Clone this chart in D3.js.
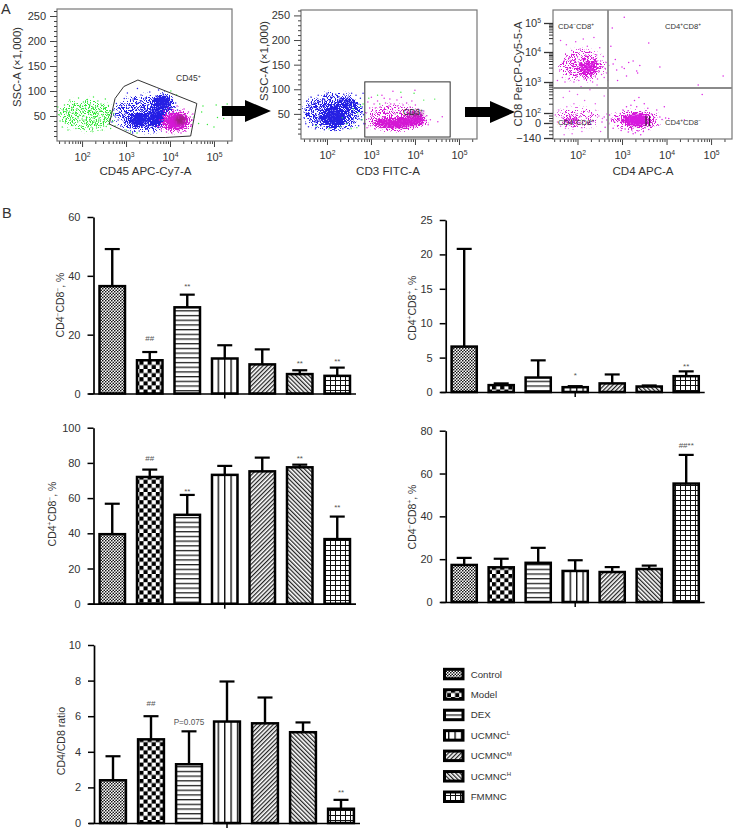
<!DOCTYPE html>
<html>
<head>
<meta charset="utf-8">
<script src="https://cdnjs.cloudflare.com/ajax/libs/d3/7.8.5/d3.min.js"></script>
<style>
html, body { margin: 0; padding: 0; background: #fff; }
svg { display: block; }
text { font-family: "Liberation Sans", Arial, sans-serif; fill: #333; }
</style>
</head>
<body>
<svg id="fig" width="735" height="831"></svg>
<script>
// ---- bar chart data
var categories = ["Control", "Model", "DEX", "UCMNCL", "UCMNCM", "UCMNCH", "FMMNC"];
var legendNames = ["Control", "Model", "DEX", "UCMNC", "UCMNC", "UCMNC", "FMMNC"];
var legendSups = ["", "", "", "L", "M", "H", ""];

var nnValues = [36.5, 11.3, 29.3, 11.9, 9.9, 6.6, 6.0];
var nnErrors = [49.1, 14.1, 33.6, 16.4, 15.0, 7.9, 8.8];
var nnMarks = [["Model", "##", 17.7], ["DEX", "**", 35.5], ["UCMNCH", "**", 9.4], ["FMMNC", "**", 10]];

var ppValues = [6.6, 1.0, 2.1, 0.7, 1.25, 0.8, 2.3];
var ppErrors = [20.8, 1.25, 4.6, 0.85, 2.55, 0.95, 3.0];
var ppMarks = [["UCMNCL", "*", 2.0], ["FMMNC", "**", 3.4]];

var pnValues = [39.5, 72, 50.5, 73.2, 75.2, 77.5, 36.7];
var pnErrors = [56.8, 76.2, 61.8, 78.3, 83, 79, 49.5];
var pnMarks = [["Model", "##", 81.3], ["DEX", "**", 62.3], ["UCMNCH", "**", 81], ["FMMNC", "**", 53]];

var npValues = [17.3, 16.2, 18.3, 14.5, 14, 15.4, 55.3];
var npErrors = [20.6, 20.2, 25.3, 19.5, 16.3, 17, 68.7];
var npMarks = [["FMMNC", "##**", 71.7]];

var ratioValues = [2.4, 4.7, 3.3, 5.7, 5.6, 5.1, 0.8];
var ratioErrors = [3.75, 6.0, 5.15, 7.95, 7.05, 5.65, 1.3];
var ratioMarks = [["Model", "##", 6.6], ["DEX", "P=0.075", 5.5], ["FMMNC", "**", 1.55]];

// ---- flow panel A: [log10 CD45, SSC]
var gateA = [[2.62,34],[2.75,85],[2.95,109],[3.27,122],[3.70,107],[4.61,75],[4.47,10],[3.89,7],[3.27,7]];
var greenA = [[1.45,68],[1.5,40],[1.52,55],[1.55,28],[1.58,47],[1.6,72],[1.62,36],[1.65,60],[1.68,22],[1.7,50],
[1.72,82],[1.74,42],[1.77,66],[1.79,31],[1.8,56],[1.83,75],[1.85,45],[1.86,25],[1.88,62],[1.9,38],
[1.92,86],[1.94,52],[1.96,70],[1.98,30],[2.0,44],[2.02,58],[2.03,78],[2.05,23],[2.06,35],[2.08,65],
[2.1,48],[2.12,83],[2.13,28],[2.15,54],[2.17,40],[2.18,72],[2.2,61],[2.22,33],[2.23,20],[2.25,46],
[2.26,88],[2.28,57],[2.3,37],[2.31,68],[2.33,26],[2.35,50],[2.36,80],[2.38,42],[2.4,63],[2.41,31],
[2.43,74],[2.45,53],[2.46,22],[2.48,38],[2.5,66],[2.52,47],[2.53,84],[2.55,29],[2.57,56],[2.58,41],
[2.6,71],[2.61,34],[2.63,60],[2.65,25],[2.67,49],[2.7,39],[2.72,55],[2.75,30],[1.48,52],[1.57,62],
[1.64,44],[1.71,58],[1.76,50],[1.82,35],[1.87,54],[1.91,46],[1.95,41],[1.99,64],[2.04,50],[2.07,42],
[2.11,37],[2.14,60],[2.19,44],[2.21,52],[2.24,68],[2.27,40],[2.29,48],[2.32,58],[2.34,34],[2.37,54],
[2.39,46],[2.42,42],[2.44,60],[2.47,50],[2.49,30],[2.51,40],[2.54,46],[2.59,52],[2.62,44],[2.66,58],
[3.0,22],[3.1,18],[3.25,16],[4.55,48],[4.65,35],[4.72,58],[4.85,33],[5.0,28],[5.08,47],[5.05,72],
[5.18,68],[5.22,45],[5.3,74],[4.75,70],[4.02,100],[4.15,92]];
var blueA = [[2.68,38],[2.72,62],[2.75,50],[2.78,75],[2.82,42],[2.85,58],[2.88,30],[2.9,68],[2.93,48],[2.96,85],
[2.98,36],[3.0,55],[3.03,96],[3.05,44],[3.07,72],[3.09,26],[3.12,60],[3.14,48],[3.16,84],[3.18,38],
[3.2,66],[3.22,28],[3.24,52],[3.26,105],[3.28,76],[3.3,20],[3.32,44],[3.34,92],[3.36,60],[3.38,30],
[3.4,68],[3.42,50],[3.44,86],[3.46,24],[3.48,40],[3.5,72],[3.52,56],[3.54,98],[3.56,32],[3.58,62],
[3.6,46],[3.62,80],[3.64,18],[3.66,54],[3.68,90],[3.7,36],[3.72,66],[3.74,102],[3.76,48],[3.78,28],
[3.8,84],[3.82,58],[3.84,94],[3.86,70],[3.88,40],[3.9,78],[3.92,90],[3.94,62],[3.96,86],[3.98,52],
[4.0,74],[4.02,66],[4.05,82],[4.08,58],[4.1,68],[4.13,76],[4.17,62],[3.15,16],[3.25,34],[3.35,38],
[3.45,62],[3.55,42],[3.65,38],[3.75,58],[3.85,50],[3.95,44]];
var magentaA = [[3.72,30],[3.76,42],[3.8,22],[3.84,36],[3.86,60],[3.88,28],[3.9,48],[3.92,18],[3.94,38],[3.96,66],
[3.98,24],[4.0,52],[4.02,34],[4.04,16],[4.06,44],[4.08,62],[4.1,26],[4.12,54],[4.14,38],[4.16,70],
[4.18,20],[4.2,46],[4.22,30],[4.24,60],[4.26,52],[4.28,24],[4.3,40],[4.32,64],[4.34,34],[4.36,50],
[4.38,26],[4.4,44],[4.42,58],[4.44,36],[4.46,48],[4.48,30],[4.5,42],[4.52,54],[4.35,20],[4.25,16]];
// clouds: [centre x, centre y, half width, half height, density]
var greenCloudsA = [[2.1,52,0.62,30,0.4]];
var blueCloudsA = [[3.45,55,0.72,36,0.48],[3.32,42,0.3,14,0.95],[3.84,76,0.22,18,0.95],[3.7,48,0.25,22,0.9]];
var blueCoreA = [[3.32,42,0.2,9,0.75],[3.84,76,0.15,12,0.8],[3.7,50,0.15,14,0.7]];
var magentaCloudsA = [[4.14,40,0.32,20,0.92],[3.95,35,0.2,12,0.7]];
var magentaCoreA = [[4.14,40,0.22,14,0.9]];
var darkCloudsA = [[4.24,42,0.12,9,0.6]];

// ---- flow panel B: [log10 CD3, SSC]
var gateB = [[2.86,115],[4.8,3]];
var blueB = [[1.48,42],[1.5,60],[1.52,30],[1.54,76],[1.56,50],[1.58,24],[1.6,66],[1.62,38],[1.64,84],[1.66,54],
[1.68,28],[1.7,72],[1.72,44],[1.74,20],[1.76,62],[1.78,34],[1.8,88],[1.82,48],[1.84,74],[1.86,26],
[1.88,58],[1.9,36],[1.92,80],[1.94,18],[1.96,68],[1.98,44],[2.0,92],[2.02,30],[2.04,60],[2.06,76],
[2.08,22],[2.1,52],[2.12,84],[2.14,38],[2.16,66],[2.18,16],[2.2,90],[2.22,46],[2.24,72],[2.26,28],
[2.28,56],[2.3,82],[2.32,34],[2.34,64],[2.36,20],[2.38,90],[2.4,48],[2.42,74],[2.44,30],[2.46,58],
[2.48,84],[2.5,40],[2.52,66],[2.54,24],[2.56,92],[2.58,52],[2.6,78],[2.62,34],[2.64,62],[2.66,88],
[2.68,44],[2.7,70],[2.72,26],[2.74,56],[2.76,82],[2.78,38],[2.8,64],[2.82,92],[2.83,48],[2.84,30],
[1.53,52],[1.67,62],[1.73,34],[1.83,60],[1.93,54],[2.03,46],[2.13,62],[2.23,56],[2.33,44],[2.43,62],
[2.53,50],[2.63,46],[2.73,40],[2.79,52],[2.55,74],[2.65,72],[2.45,78],[2.35,76],[2.25,84],[1.75,50]];
var greenB = [[1.75,26],[2.05,20],[2.3,24],[2.45,30],[2.55,20],[2.68,22],[2.7,52],[2.76,66],[2.82,70],[2.8,38],
[2.95,82],[3.15,88],[3.2,70],[3.68,94],[3.98,92],[4.2,78],[4.45,80],[3.6,52],[2.6,60],[2.35,42]];
var magentaB = [[2.87,30],[2.89,52],[2.91,22],[2.93,74],[2.95,40],[2.97,62],[2.99,26],[3.01,84],[3.03,46],[3.05,32],
[3.07,70],[3.09,20],[3.11,56],[3.13,38],[3.15,76],[3.17,28],[3.19,48],[3.21,64],[3.23,22],[3.25,88],
[3.27,36],[3.29,58],[3.31,44],[3.33,72],[3.35,24],[3.37,52],[3.39,34],[3.41,66],[3.43,80],[3.45,42],
[3.47,26],[3.49,60],[3.51,38],[3.53,70],[3.55,50],[3.57,22],[3.59,78],[3.61,44],[3.63,62],[3.65,30],
[3.67,54],[3.69,84],[3.71,36],[3.73,68],[3.75,46],[3.77,24],[3.79,58],[3.81,72],[3.83,40],[3.85,52],
[3.87,30],[3.89,64],[3.91,44],[3.93,76],[3.95,34],[3.97,56],[3.99,42],[4.01,68],[4.03,26],[4.05,48],
[4.07,60],[4.09,36],[4.12,52],[4.15,42],[4.18,30],[4.2,56],[4.23,36],[4.27,46],[4.3,28],[4.35,38],
[4.52,34],[4.62,44],[3.5,96],[4.0,98],[3.1,62],[3.3,82],[3.45,70],[3.6,66]];
var blueCloudsB = [[2.15,55,0.68,36,0.55],[2.15,45,0.28,22,0.98],[2.5,70,0.2,14,0.72]];
var blueCoreB = [[2.15,45,0.18,14,0.8],[2.48,72,0.08,7,0.5]];
var magentaCloudsB = [[3.5,42,0.62,26,0.38],[3.6,31,0.55,11,0.95],[3.95,38,0.3,13,0.9]];
var magentaCoreB = [[3.6,30,0.42,7,0.9],[3.95,36,0.22,8,0.9]];
var darkCloudsB = [[4.0,50,0.2,6,0.75]];

// ---- flow panel C: [log10 CD4, axis position of CD8]. CD8 position runs through the
// tick positions in cd8Positions below, so 3 means 10^3 and 0 means 0
var cd8Positions = [-2.8, 0, 2, 3, 4, 5];
var cd8TickLabels = ["\u2212140", "0", "102", "103", "104", "105"];
var upperLeftC = [[1.55,3.05],[1.6,3.4],[1.62,4.4],[1.66,3.15],[1.7,3.7],[1.72,3.0],[1.75,4.25],[1.78,3.45],[1.8,3.1],[1.82,3.8],
[1.85,3.3],[1.87,4.05],[1.9,3.55],[1.92,3.0],[1.94,3.7],[1.96,4.35],[1.98,3.2],[2.0,3.85],[2.01,3.4],[2.03,3.05],
[2.05,3.6],[2.06,4.1],[2.08,3.25],[2.1,3.75],[2.11,3.45],[2.13,4.45],[2.15,3.1],[2.16,3.6],[2.18,3.9],[2.19,3.35],
[2.21,3.55],[2.22,4.2],[2.24,3.15],[2.25,3.7],[2.27,3.45],[2.28,4.0],[2.3,3.25],[2.31,3.6],[2.33,3.8],[2.34,3.0],
[2.36,3.4],[2.37,4.5],[2.39,3.65],[2.4,3.2],[2.42,3.5],[2.43,3.9],[2.45,3.1],[2.47,3.6],[2.49,3.35],[2.5,4.15],
[2.52,3.7],[2.54,3.25],[2.56,3.5],[2.58,3.85],[2.6,3.15],[2.62,3.45],[2.64,3.65],[2.66,3.3],[2.68,3.05],[2.7,3.55],
[2.1,3.5],[2.14,3.4],[2.17,3.3],[2.2,3.65],[2.23,3.5],[2.26,3.35],[2.29,3.55],[2.32,3.45],[2.35,3.6],[2.38,3.3],
[2.41,3.4],[2.44,3.7],[2.12,3.2],[2.18,3.75],[2.24,3.8],[2.3,3.4],[2.36,3.75],[2.0,3.5],[2.04,3.75],[2.07,3.5]];
var lowerLeftC = [[1.5,1.6],[1.55,0.2],[1.58,2.1],[1.62,-0.6],[1.65,1.1],[1.68,2.5],[1.7,0.4],[1.73,-1.0],[1.76,2.2],[1.78,0.8],
[1.8,-0.2],[1.82,2.7],[1.85,1.4],[1.87,0.2],[1.9,-0.8],[1.92,2.3],[1.94,0.6],[1.96,1.7],[1.98,-0.4],[2.0,2.6],
[2.03,0.1],[2.05,1.2],[2.08,2.85],[2.1,-0.9],[2.13,0.5],[2.16,2.4],[2.2,1.0],[2.24,-0.3],[2.28,2.75],[2.32,1.8],
[2.36,0.3],[2.4,2.3],[2.44,2.9],[2.48,1.4],[2.52,-1.6],[2.56,0.9],[2.6,2.55],[2.66,1.8],[1.75,0.2],[1.8,0.6],
[1.85,-0.3],[1.9,0.3],[1.95,0.9],[2.0,0.5],[2.05,-0.2],[1.7,-2.2],[1.88,-2.0],[2.1,-1.6]];
var lowerRightC = [[2.55,0.2],[2.6,1.2],[2.62,-0.8],[2.66,0.6],[2.7,-0.2],[2.72,1.6],[2.76,0.8],[2.8,-1.0],[2.82,0.3],[2.86,1.3],
[2.9,-0.5],[2.93,0.9],[2.96,1.9],[2.98,-1.4],[3.0,0.2],[3.02,2.1],[3.05,1.0],[3.07,-1.1],[3.1,2.2],[3.12,-0.3],
[3.14,-1.7],[3.17,1.4],[3.2,2.25],[3.22,-1.3],[3.25,-2.0],[3.28,2.4],[3.3,-1.8],[3.33,2.2],[3.36,-1.5],[3.38,2.5],
[3.42,-2.2],[3.44,1.9],[3.48,-1.6],[3.5,2.3],[3.52,-0.9],[3.55,1.5],[3.58,2.15],[3.6,-1.2],[3.63,0.5],[3.66,1.8],
[3.68,-0.6],[3.72,1.1],[3.75,0.2],[3.78,2.1],[3.82,-0.4],[3.85,1.2],[3.9,0.7],[3.95,2.2],[3.98,1.0],[4.05,0.9],
[4.4,0.6]];
var upperRightC = [[3.05,5.2],[2.78,4.83],[3.6,4.31],[3.85,3.5],[3.33,3.37],[5.27,3.2],[4.71,2.9],[4.8,2.6],[2.75,4.2],
[2.85,3.75],[2.8,3.6],[3.0,3.5],[3.25,3.7],[2.88,3.4],[3.05,3.45],[3.15,3.65],[3.4,3.55],[2.9,3.05],[3.1,3.2],[3.35,3.3]];
var cloudsC = [[2.1,3.55,0.5,0.5,0.46],[2.24,3.47,0.2,0.22,0.95],[2.0,1.0,0.5,1.8,0.34],[1.87,0.5,0.2,0.7,0.6],[3.3,0.6,0.55,1.6,0.55],[3.33,0.6,0.3,1.3,0.98]];
var coreC = [[3.33,0.6,0.24,1.15,0.95],[2.24,3.47,0.12,0.13,0.7],[1.87,0.3,0.12,0.5,0.3]];
var gateBarsC = [[3.54,1.4,-0.6],[3.62,1.4,-0.6]];

// ---- tick values and minor ticks
var decades = [100, 1000, 10000, 100000];
var sscTicks = [50, 100, 150, 200, 250];
var sscMinor = [10, 20, 30, 40, 60, 70, 80, 90, 110, 120, 130, 140, 160, 170, 180, 190, 210, 220, 230, 240, 260];
var logMinor = [30, 40, 50, 60, 70, 80, 90, 200, 300, 400, 500, 600, 700, 800, 900, 2000, 3000, 4000, 5000, 6000, 7000, 8000, 9000,
  20000, 30000, 40000, 50000, 60000, 70000, 80000, 90000, 200000];
var cd8Minor = [-2.1, -1.4, -0.7, 0.5, 1, 1.5, 2.3, 2.48, 2.6, 2.7, 2.78, 2.85, 2.9, 2.95, 3.3, 3.48, 3.6, 3.7, 3.78, 3.85, 3.9, 3.95, 4.3, 4.48, 4.6, 4.7, 4.78, 4.85, 4.9, 4.95];

var svg = d3.select("#fig");
var defs = svg.append("defs");

// ---- fill patterns, one per group
function makePattern(id, w, h, rot) {
  var p = defs.append("pattern").attr("id", id).attr("patternUnits", "userSpaceOnUse")
    .attr("width", w).attr("height", h);
  if (rot) p.attr("patternTransform", "rotate(" + rot + ")");
  p.append("rect").attr("width", w).attr("height", h).attr("fill", "#fff");
  return p;
}
var pc = makePattern("p0", 3, 3, 0);
pc.append("circle").attr("cx", 0.75).attr("cy", 0.75).attr("r", 0.85).attr("fill", "#111");
pc.append("circle").attr("cx", 2.25).attr("cy", 2.25).attr("r", 0.85).attr("fill", "#111");
var pm = makePattern("p1", 8.2, 8.2, 0);
pm.append("rect").attr("width", 4.1).attr("height", 4.1).attr("fill", "#000");
pm.append("rect").attr("x", 4.1).attr("y", 4.1).attr("width", 4.1).attr("height", 4.1).attr("fill", "#000");
makePattern("p2", 4.7, 4.7, 0).append("rect").attr("width", 4.7).attr("height", 1.3).attr("fill", "#222");
makePattern("p3", 6.4, 6.4, 0).append("rect").attr("width", 1.4).attr("height", 6.4).attr("fill", "#111");
makePattern("p4", 3, 3, 45).append("rect").attr("width", 1.25).attr("height", 3).attr("fill", "#222");
makePattern("p5", 3, 3, -45).append("rect").attr("width", 1.25).attr("height", 3).attr("fill", "#222");
var pf = makePattern("p6", 5, 5, 0);
pf.append("rect").attr("width", 5).attr("height", 1).attr("fill", "#111");
pf.append("rect").attr("width", 1).attr("height", 5).attr("fill", "#111");

defs.append("filter").attr("id", "blur").attr("x", "-50%").attr("y", "-50%").attr("width", "200%").attr("height", "200%")
  .append("feGaussianBlur").attr("stdDeviation", 1.8);

// grain filter: turns a cloud into speckle, denser where the cloud is denser
function grainFilter(id, color) {
  var f = defs.append("filter").attr("id", id).attr("x", "-30%").attr("y", "-30%").attr("width", "160%").attr("height", "160%")
    .attr("color-interpolation-filters", "sRGB");
  f.append("feGaussianBlur").attr("in", "SourceAlpha").attr("stdDeviation", 2.2).attr("result", "soft");
  f.append("feTurbulence").attr("type", "fractalNoise").attr("baseFrequency", 0.95).attr("numOctaves", 2).attr("seed", 4).attr("result", "noise");
  f.append("feColorMatrix").attr("in", "noise").attr("type", "matrix")
    .attr("values", "0 0 0 0 0  0 0 0 0 0  0 0 0 0 0  2.6 0 0 0 -0.8").attr("result", "speck");
  f.append("feComposite").attr("in", "soft").attr("in2", "speck").attr("operator", "arithmetic")
    .attr("k1", 0).attr("k2", 1).attr("k3", 1).attr("k4", -1).attr("result", "sum");
  f.append("feComponentTransfer").attr("in", "sum").attr("result", "sharp")
    .append("feFuncA").attr("type", "linear").attr("slope", 7);
  f.append("feFlood").attr("flood-color", color).attr("result", "tint");
  f.append("feComposite").attr("in", "tint").attr("in2", "sharp").attr("operator", "in");
}
grainFilter("grainGreen", "#35e83a");
grainFilter("grainBlue", "#2420e4");
grainFilter("grainMagenta", "#d414d4");

// text with a raised part, parts are [text, raised]
function richText(sel, parts, size) {
  sel.text(null);
  parts.forEach(function (part, i) {
    var ts = sel.append("tspan").text(part[0]);
    if (part[1]) ts.attr("dy", -size * 0.38).attr("font-size", size * 0.62);
    else if (i > 0 && parts[i - 1][1]) ts.attr("dy", size * 0.38);
  });
}
function power(label) { return [[label.slice(0, 2), false], [label.slice(2), true]]; }

// ---- flow cytometry panels
function flowFrame(box, x, y) {
  var g = svg.append("g");
  g.append("g").attr("transform", "translate(0," + box.bottom + ")")
    .call(d3.axisBottom(x).tickValues(logMinor).tickSize(3).tickFormat(""))
    .call(function (a) { a.select(".domain").remove(); a.selectAll("line").attr("stroke", "#444"); });
  g.append("g").attr("transform", "translate(0," + box.bottom + ")")
    .call(d3.axisBottom(x).tickValues(decades).tickSize(6).tickPadding(6))
    .call(function (a) {
      a.select(".domain").remove();
      a.selectAll("line").attr("stroke", "#444");
      a.selectAll("text").attr("font-size", 11).attr("font-family", "Liberation Sans").attr("fill", "#333")
        .each(function (d) { richText(d3.select(this), power("10" + Math.round(Math.log10(d))), 11); });
    });
  g.append("rect").attr("x", box.left).attr("y", box.top).attr("width", box.right - box.left)
    .attr("height", box.bottom - box.top).attr("fill", "none").attr("stroke", "#777").attr("stroke-width", 1.2);
  return g;
}
function sscAxis(g, box, y) {
  g.append("g").attr("transform", "translate(" + box.left + ",0)")
    .call(d3.axisLeft(y).tickValues(sscMinor).tickSize(3).tickFormat(""))
    .call(function (a) { a.select(".domain").remove(); a.selectAll("line").attr("stroke", "#444"); });
  g.append("g").attr("transform", "translate(" + box.left + ",0)")
    .call(d3.axisLeft(y).tickValues(sscTicks).tickSize(7).tickPadding(4))
    .call(function (a) {
      a.select(".domain").remove();
      a.selectAll("line").attr("stroke", "#444");
      a.selectAll("text").attr("font-size", 11).attr("font-family", "Liberation Sans").attr("fill", "#333");
    });
}
function dots(g, pts, color, x, y, r) {
  g.append("g").selectAll("circle").data(pts).enter().append("circle")
    .attr("cx", function (d) { return x(Math.pow(10, d[0])); })
    .attr("cy", function (d) { return y(d[1]); })
    .attr("r", r || 0.75)
    .attr("fill", color);
}
function clouds(g, list, filterId, x, y, color) {
  g.append("g").attr("filter", "url(#" + filterId + ")").selectAll("ellipse").data(list).enter().append("ellipse")
    .attr("cx", function (d) { return x(Math.pow(10, d[0])); })
    .attr("cy", function (d) { return y(d[1]); })
    .attr("rx", function (d) { return x(Math.pow(10, d[0] + d[2])) - x(Math.pow(10, d[0])); })
    .attr("ry", function (d) { return y(d[1] - d[3]) - y(d[1]); })
    .attr("fill", color || "#000").attr("fill-opacity", function (d) { return d[4]; });
}
function label(x, y, parts, size, anchor, rotate, color) {
  var t = svg.append("text").attr("font-size", size).attr("text-anchor", anchor || "middle");
  if (color) t.style("fill", color);
  if (rotate) t.attr("transform", "translate(" + x + "," + y + ") rotate(" + rotate + ")");
  else t.attr("x", x).attr("y", y);
  richText(t, parts, size);
  return t;
}

// panel one
var boxA = { left: 57, right: 232, top: 9, bottom: 141 };
var xA = d3.scaleLog().domain([Math.pow(10, 1.43), Math.pow(10, 5.41)]).range([boxA.left, boxA.right]);
var yA = d3.scaleLinear().domain([0, 264]).range([boxA.bottom, boxA.top]);
var frameA = flowFrame(boxA, xA, yA);
sscAxis(frameA, boxA, yA);
clouds(frameA, greenCloudsA, "grainGreen", xA, yA);
dots(frameA, greenA, "#35e83a", xA, yA, 0.7);
clouds(frameA, blueCloudsA, "grainBlue", xA, yA);
clouds(frameA, blueCoreA, "blur", xA, yA, "#2420e4");
dots(frameA, blueA, "#2b22e6", xA, yA);
clouds(frameA, magentaCloudsA, "grainMagenta", xA, yA);
clouds(frameA, magentaCoreA, "blur", xA, yA, "#d414d4");
clouds(frameA, darkCloudsA, "blur", xA, yA, "#7a2a50");
dots(frameA, magentaA, "#d61ad6", xA, yA);
frameA.append("path")
  .attr("d", d3.line().x(function (d) { return xA(Math.pow(10, d[0])); }).y(function (d) { return yA(d[1]); }).curve(d3.curveLinearClosed)(gateA))
  .attr("fill", "none").attr("stroke", "#333").attr("stroke-width", 1);
label(176, 81, [["CD45", false], ["+", true]], 8.5, "start");
label(145.5, 175, [["CD45 APC-Cy7-A", false]], 11.6);
label(21, 67, [["SSC-A (\u00d71,000)", false]], 11.4, "middle", -90);

// panel two
var boxB = { left: 301, right: 477, top: 10, bottom: 139 };
var xB = d3.scaleLog().domain([Math.pow(10, 1.41), Math.pow(10, 5.41)]).range([boxB.left, boxB.right]);
var yB = d3.scaleLinear().domain([0, 261]).range([boxB.bottom - 0.5, boxB.top]);
var frameB = flowFrame(boxB, xB, yB);
sscAxis(frameB, boxB, yB);
clouds(frameB, blueCloudsB, "grainBlue", xB, yB);
clouds(frameB, blueCoreB, "blur", xB, yB, "#2420e4");
dots(frameB, blueB, "#2b22e6", xB, yB);
dots(frameB, greenB, "#35e83a", xB, yB, 0.7);
clouds(frameB, magentaCloudsB, "grainMagenta", xB, yB);
clouds(frameB, magentaCoreB, "blur", xB, yB, "#d414d4");
clouds(frameB, darkCloudsB, "blur", xB, yB, "#a81fa0");
dots(frameB, magentaB, "#df2fdf", xB, yB);
frameB.append("rect").attr("x", xB(Math.pow(10, gateB[0][0]))).attr("y", yB(gateB[0][1]))
  .attr("width", xB(Math.pow(10, gateB[1][0])) - xB(Math.pow(10, gateB[0][0])))
  .attr("height", yB(gateB[1][1]) - yB(gateB[0][1]))
  .attr("fill", "none").attr("stroke", "#333").attr("stroke-width", 1);
label(403, 115, [["CD3", false], ["+", true]], 8.5, "start");
label(388, 175, [["CD3 FITC-A", false]], 11.6);
label(268, 61, [["SSC-A (\u00d71,000)", false]], 11.4, "middle", -90);

// panel three
var boxC = { left: 553, right: 732, top: 10, bottom: 139 };
var xC = d3.scaleLog().domain([Math.pow(10, 1.45), Math.pow(10, 5.47)]).range([boxC.left, boxC.right]);
var yC = d3.scaleLinear().domain(cd8Positions).range([138, 123, 113, 82, 52, 23]);
var frameC = flowFrame(boxC, xC, yC);
clouds(frameC, cloudsC, "grainMagenta", xC, yC);
clouds(frameC, coreC, "blur", xC, yC, "#d814e0");
dots(frameC, upperLeftC, "#e03ae8", xC, yC);
dots(frameC, lowerLeftC, "#e65cec", xC, yC);
dots(frameC, lowerRightC, "#dc22e4", xC, yC);
dots(frameC, upperRightC, "#dc22e4", xC, yC);
frameC.append("g").attr("transform", "translate(" + boxC.left + ",0)")
  .call(d3.axisLeft(yC).tickValues(cd8Minor).tickSize(4).tickFormat(""))
  .call(function (a) { a.select(".domain").remove(); a.selectAll("line").attr("stroke", "#333"); });
frameC.append("g").attr("transform", "translate(" + boxC.left + ",0)")
  .call(d3.axisLeft(yC).tickValues(cd8Positions).tickSize(9).tickPadding(3)
    .tickFormat(function (d, i) { return cd8TickLabels[i]; }))
  .call(function (a) {
    a.select(".domain").remove();
    a.selectAll("line").attr("stroke", "#333").attr("stroke-width", 1.3);
    a.selectAll("text").attr("font-size", 11).attr("font-family", "Liberation Sans").attr("fill", "#333")
      .each(function (d, i) {
        if (cd8TickLabels[i].length === 3 && cd8TickLabels[i].charAt(0) === "1") richText(d3.select(this), power(cd8TickLabels[i]), 11);
      });
  });
frameC.append("g").selectAll("line").data(gateBarsC).enter().append("line")
  .attr("x1", function (d) { return xC(Math.pow(10, d[0])); }).attr("x2", function (d) { return xC(Math.pow(10, d[0])); })
  .attr("y1", function (d) { return yC(d[1]); }).attr("y2", function (d) { return yC(d[2]); })
  .attr("stroke", "#222").attr("stroke-width", 1);
frameC.append("line").attr("x1", 608).attr("x2", 608).attr("y1", boxC.top).attr("y2", boxC.bottom).attr("stroke", "#8a8a8a").attr("stroke-width", 1.8);
frameC.append("line").attr("x1", boxC.left).attr("x2", boxC.right).attr("y1", 88).attr("y2", 88).attr("stroke", "#8a8a8a").attr("stroke-width", 1.8);
var quadNames = [[558, 29, "\u2212", "+"], [665, 29, "+", "+"], [558, 125, "\u2212", "+"], [665, 125, "+", "\u2212"]];
quadNames.forEach(function (q) {
  label(q[0], q[1], [["CD4", false], [q[2], true], ["CD8", false], [q[3], true]], 7.6, "start");
});
label(643, 175, [["CD4 APC-A", false]], 11.6);
label(522, 74, [["CD8 PerCP-Cy5-5-A", false]], 11.4, "middle", -90);

// arrows between the panels
function arrow(x0, xb, x1, cy) {
  svg.append("path")
    .attr("d", "M" + x0 + "," + (cy - 5) + "H" + xb + "V" + (cy - 11) + "L" + x1 + "," + cy + "L" + xb + "," + (cy + 11) + "V" + (cy + 5) + "H" + x0 + "Z")
    .attr("fill", "#000");
}
arrow(222, 245, 271, 111);
arrow(465, 490, 515, 112);

label(1, 14, [["A", false]], 14.5, "start");
label(2, 218, [["B", false]], 14.5, "start");

// ---- bar charts
function barChart(c) {
  var x = d3.scaleBand().domain(categories).range([c.x0, c.x1]).paddingInner(0.32).paddingOuter(0.16);
  var y = d3.scaleLinear().domain([0, c.max]).range([c.y0, c.y1]);
  var g = svg.append("g");

  g.selectAll(".err").data(categories).enter().append("line")
    .attr("x1", function (d) { return x(d) + x.bandwidth() / 2; })
    .attr("x2", function (d) { return x(d) + x.bandwidth() / 2; })
    .attr("y1", function (d, i) { return y(c.values[i]); })
    .attr("y2", function (d, i) { return y(c.errors[i]); })
    .attr("stroke", "#000").attr("stroke-width", 2.4);
  g.selectAll(".cap").data(categories).enter().append("line")
    .attr("x1", function (d) { return x(d) + x.bandwidth() / 2 - 7.5; })
    .attr("x2", function (d) { return x(d) + x.bandwidth() / 2 + 7.5; })
    .attr("y1", function (d, i) { return y(c.errors[i]); })
    .attr("y2", function (d, i) { return y(c.errors[i]); })
    .attr("stroke", "#000").attr("stroke-width", 2.2);
  g.selectAll(".bar").data(categories).enter().append("rect")
    .attr("x", function (d) { return x(d); })
    .attr("width", x.bandwidth())
    .attr("y", function (d, i) { return y(c.values[i]); })
    .attr("height", function (d, i) { return y(0) - y(c.values[i]); })
    .attr("fill", function (d, i) { return "url(#p" + i + ")"; })
    .attr("stroke", "#000").attr("stroke-width", 2.5);

  g.append("g").attr("transform", "translate(" + c.x0 + ",0)")
    .call(d3.axisLeft(y).tickValues(c.ticks).tickSize(6).tickPadding(7).tickSizeOuter(0))
    .call(function (a) {
      a.select(".domain").attr("stroke-width", 1.7);
      a.selectAll("line").attr("stroke-width", 1.5);
      a.selectAll("text").attr("font-size", 11).attr("font-family", "Liberation Sans").attr("fill", "#333");
    });
  g.append("g").attr("transform", "translate(0," + c.y0 + ")")
    .call(d3.axisBottom(x).tickValues(["UCMNCL"]).tickSize(5).tickSizeOuter(0).tickFormat(""))
    .call(function (a) {
      a.select(".domain").attr("stroke-width", 1.7).attr("d", "M" + (c.x0 - 5) + ",0.5H" + c.x1);
      a.selectAll("line").attr("stroke-width", 1.5);
    });

  g.selectAll(".mark").data(c.marks).enter().append("text")
    .attr("x", function (d) { return x(d[0]) + x.bandwidth() / 2; })
    .attr("y", function (d) { return y(d[2]); })
    .attr("text-anchor", "middle")
    .attr("font-size", function (d) { return d[1].length > 4 ? 8.2 : 8; })
    .style("fill", "#555")
    .text(function (d) { return d[1]; });

  label(c.labelX, c.labelY, c.title, 10.5, "middle", -90);
}

barChart({ values: nnValues, errors: nnErrors, marks: nnMarks, max: 60, ticks: [0, 20, 40, 60],
  x0: 93.5, x1: 356, y0: 393.5, y1: 217, labelX: 64, labelY: 305,
  title: [["CD4", false], ["\u2212", true], ["CD8", false], ["\u2212", true], [", %", false]] });
barChart({ values: ppValues, errors: ppErrors, marks: ppMarks, max: 25, ticks: [0, 5, 10, 15, 20, 25],
  x0: 445.7, x1: 704.7, y0: 392, y1: 220, labelX: 416, labelY: 308,
  title: [["CD4", false], ["+", true], ["CD8", false], ["+", true], [", %", false]] });
barChart({ values: pnValues, errors: pnErrors, marks: pnMarks, max: 100, ticks: [0, 20, 40, 60, 80, 100],
  x0: 93.5, x1: 356, y0: 603.7, y1: 427.7, labelX: 56, labelY: 514,
  title: [["CD4", false], ["+", true], ["CD8", false], ["\u2212", true], [", %", false]] });
barChart({ values: npValues, errors: npErrors, marks: npMarks, max: 80, ticks: [0, 20, 40, 60, 80],
  x0: 445.7, x1: 704.7, y0: 602, y1: 430.7, labelX: 416, labelY: 517,
  title: [["CD4", false], ["\u2212", true], ["CD8", false], ["+", true], [", %", false]] });
barChart({ values: ratioValues, errors: ratioErrors, marks: ratioMarks, max: 10, ticks: [0, 2, 4, 6, 8, 10],
  x0: 94, x1: 360, y0: 823, y1: 645, labelX: 64.5, labelY: 741,
  title: [["CD4/CD8 ratio", false]] });

// ---- legend
var legendY = d3.scalePoint().domain(categories).range([674, 796.7]);
var legend = svg.append("g");
categories.forEach(function (cat, i) {
  legend.append("rect").attr("x", 444.5).attr("y", legendY(cat) - 4.7).attr("width", 18.5).attr("height", 9.5)
    .attr("fill", "url(#p" + i + ")").attr("stroke", "#000").attr("stroke-width", 3);
  label(470.7, legendY(cat) + 3.5, [[legendNames[i], false], [legendSups[i], true]], 9.7, "start");
});
</script>
</body>
</html>
